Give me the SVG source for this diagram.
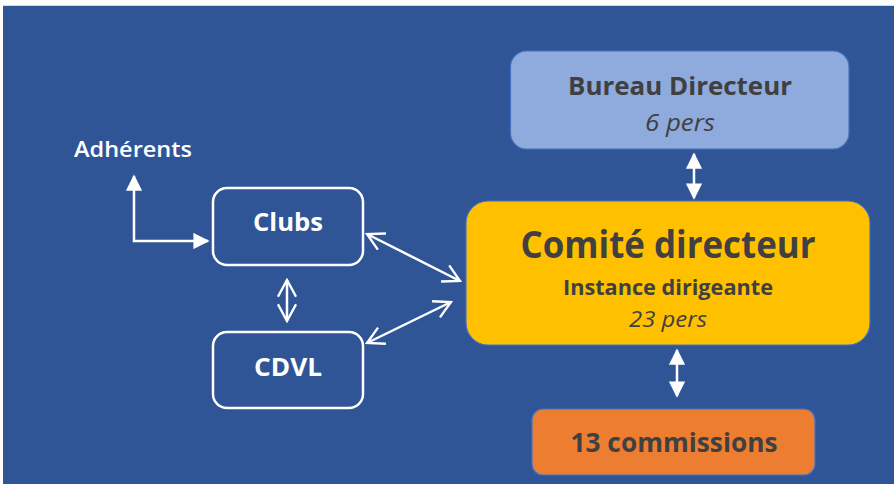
<svg xmlns="http://www.w3.org/2000/svg" width="894" height="484" viewBox="0 0 894 484">
<defs>
<style>
.t{font-family:"Open Sans","Liberation Sans",sans-serif;text-anchor:middle}
.dk{fill:#404040}
.wh{fill:#ffffff}
.b{font-weight:700}
.i{font-style:italic}
.ol{fill:none;stroke:#ffffff;stroke-width:2.5}
.ln{fill:none;stroke:#ffffff;stroke-width:2.5}
.sh{stroke:#4472C4;stroke-width:1.2}
</style>
<marker id="tri" viewBox="0 0 10 10" refX="9" refY="5" markerWidth="6.5" markerHeight="6.5" markerUnits="strokeWidth" orient="auto-start-reverse">
<path d="M0,0 L10,5 L0,10 Z" fill="#ffffff"/>
</marker>
<marker id="opn" viewBox="0 0 12 12" refX="11" refY="6" markerWidth="8" markerHeight="8" markerUnits="strokeWidth" orient="auto-start-reverse">
<path d="M1,0.6 L11,6 L1,11.4" fill="none" stroke="#ffffff" stroke-width="1.4"/>
</marker>
</defs>
<rect x="0" y="0" width="894" height="484" fill="#ffffff"/>
<rect x="3" y="5" width="891" height="1" fill="#d9d9d9"/>
<rect x="3" y="6" width="891" height="478" fill="#2F5597"/>

<g id="connectors">
<polyline class="ln" points="208,241 134,241 134,176" marker-start="url(#tri)" marker-end="url(#tri)"/>
<line class="ln" x1="287" y1="280" x2="287" y2="321" marker-start="url(#opn)" marker-end="url(#opn)"/>
<line class="ln" x1="367" y1="234" x2="460" y2="281" marker-start="url(#opn)" marker-end="url(#opn)"/>
<line class="ln" x1="367" y1="343" x2="451" y2="302" marker-start="url(#opn)" marker-end="url(#opn)"/>
<line class="ln" x1="694" y1="154" x2="694" y2="198" marker-start="url(#tri)" marker-end="url(#tri)"/>
<line class="ln" x1="677" y1="350" x2="677" y2="396" marker-start="url(#tri)" marker-end="url(#tri)"/>
</g>

<g id="adherents">
<text class="t wh" x="133" y="157" font-size="21" font-weight="600" textLength="118" lengthAdjust="spacingAndGlyphs">Adhérents</text>
</g>

<g id="clubs">
<rect class="ol" x="213" y="188" width="150" height="77" rx="14"/>
<text class="t wh b" x="288" y="231" font-size="25" textLength="70" lengthAdjust="spacingAndGlyphs">Clubs</text>
</g>

<g id="cdvl">
<rect class="ol" x="213" y="332" width="150" height="76" rx="14"/>
<text class="t wh b" x="288" y="376" font-size="25" textLength="68" lengthAdjust="spacingAndGlyphs">CDVL</text>
</g>

<g id="bureau">
<rect class="sh" x="510.5" y="51" width="338.5" height="98" rx="16" fill="#8FAADC"/>
<text class="t dk b" x="680" y="95" font-size="25" textLength="224" lengthAdjust="spacingAndGlyphs">Bureau Directeur</text>
<text class="t dk i" x="680" y="131" font-size="23" textLength="70" lengthAdjust="spacingAndGlyphs">6 pers</text>
</g>

<g id="comite">
<rect class="sh" x="466" y="201" width="404" height="144" rx="22" fill="#FFC000"/>
<text class="t dk b" x="668" y="258" font-size="38" textLength="295" lengthAdjust="spacingAndGlyphs">Comité directeur</text>
<text class="t dk b" x="668" y="295" font-size="22" textLength="210" lengthAdjust="spacingAndGlyphs">Instance dirigeante</text>
<text class="t dk i" x="668" y="327" font-size="22" textLength="78" lengthAdjust="spacingAndGlyphs">23 pers</text>
</g>

<g id="commissions">
<rect class="sh" x="532" y="409" width="283" height="66" rx="11" fill="#ED7D31"/>
<text class="t dk b" x="674" y="452" font-size="27" textLength="207" lengthAdjust="spacingAndGlyphs">13 commissions</text>
</g>
</svg>
